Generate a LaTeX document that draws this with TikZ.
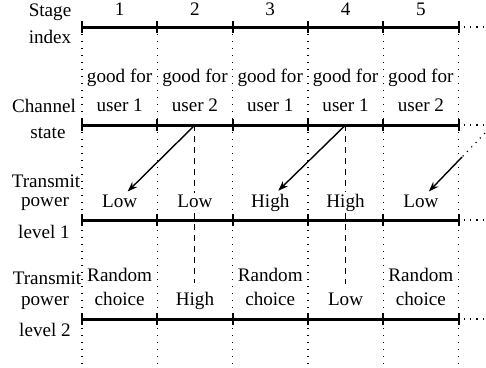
\documentclass[tikz,border=0pt]{standalone}
\usepackage{fontspec}
\setmainfont{Liberation Serif}
\usetikzlibrary{arrows.meta, calc}

\begin{document}
\begin{tikzpicture}[
    x=0.5bp, y=-0.5bp,
    >={Stealth[length=5bp, width=3.6bp]},
    every node/.style={font=\fontsize{9.6}{11}\selectfont, inner sep=0pt},
    axisline/.style={line width=1.5bp},
    tickmark/.style={line width=1bp},
    gridline/.style={line width=0.6bp, dash pattern=on 0.6bp off 2.9bp},
    trail/.style={line width=0.6bp, dash pattern=on 0.6bp off 2.5bp},
    link/.style={->, line width=0.7bp},
    holdline/.style={line width=0.5bp, dash pattern=on 3bp off 2.5bp},
    cell/.style={anchor=base, fill=white, inner sep=0.8bp},
  ]

  \useasboundingbox (0,0) rectangle (486,367);

  % === Stage boundaries (dotted) ===
  \foreach \i in {0,...,5}
    \draw[gridline] (82+75.3*\i,27) -- (82+75.3*\i,367);

  % === Time axes with ticks ===
  \foreach \r/\y in {stage/27, ch/125, pa/220, pb/319} {
    \draw[axisline] (82,\y) -- (458.5,\y);
    \foreach \i in {0,...,5}
      \draw[tickmark] (82+75.3*\i,\y-6) -- (82+75.3*\i,\y+6);
    \draw[trail] (464,\y) -- (485,\y);
    \foreach \i in {1,...,5}
      \coordinate (\r-\i) at (82+75.3*\i-37.65,\y);
  }

  % Row labels
  \node[anchor=base] (lab-stage) at (50,16) {Stage};
  \node[anchor=base] (lab-index) at (50,43) {index};
  \node[anchor=base] (lab-chan)  at (44,112) {Channel};
  \node[anchor=base] (lab-state) at (48,138) {state};
  \node[anchor=base] (lab-tx1)   at (46,187) {Transmit};
  \node[anchor=base] (lab-pw1)   at (45,206) {power};
  \node[anchor=base] (lab-lv1)   at (44,238) {level 1};
  \node[anchor=base] (lab-tx2)   at (47,284) {Transmit};
  \node[anchor=base] (lab-pw2)   at (45,305) {power};
  \node[anchor=base] (lab-lv2)   at (45,336) {level 2};

  % Stage numbers
  \foreach \i in {1,...,5}
    \node[anchor=base] (num-\i) at ($(stage-\i)+(0,-12)$) {\i};

  % === Channel state ===
  \foreach \i/\u in {1/1, 2/2, 3/1, 4/1, 5/2} {
    \node[anchor=base] (good-\i) at ($(ch-\i)+(0,-43)$) {good for};
    \node[anchor=base] (user-\i) at ($(ch-\i)+(0,-14)$) {user \u};
  }

  % === Decisions held over to level 2 (dashed) ===
  \node[anchor=base] (lvb-2) at ($(pb-2)+(0,-14)$) {High};
  \node[anchor=base] (lvb-4) at ($(pb-4)+(0,-14)$) {Low};
  \draw[holdline] (ch-2) -- ([yshift=4bp]lvb-2.north);
  \draw[holdline] (ch-4) -- ([yshift=4bp]lvb-4.north);

  % === Transmit power level 1 ===
  \foreach \i/\p in {1/Low, 2/Low, 3/High, 4/High, 5/Low}
    \node[cell] (lva-\i) at ($(pa-\i)+(0,-13)$) {\p};

  % === Transmit power level 2 ===
  \foreach \i in {1,3,5} {
    \node[anchor=base] (rnd-\i) at ($(pb-\i)+(0,-38)$) {Random};
    \node[anchor=base] (cho-\i) at ($(pb-\i)+(0,-14)$) {choice};
  }

  % Channel feedback to previous stage
  \draw[link] (ch-2) -- ([xshift=4bp,yshift=0.5bp]lva-1.north);
  \draw[link] (ch-4) -- ([xshift=4bp,yshift=0.5bp]lva-3.north);
  \coordinate (fade) at (462,157);
  \coordinate (offedge) at (485,133);
  \draw[trail] (offedge) -- (fade);
  \draw[link] (fade) -- ([xshift=4bp,yshift=0.5bp]lva-5.north);

\end{tikzpicture}
\end{document}
